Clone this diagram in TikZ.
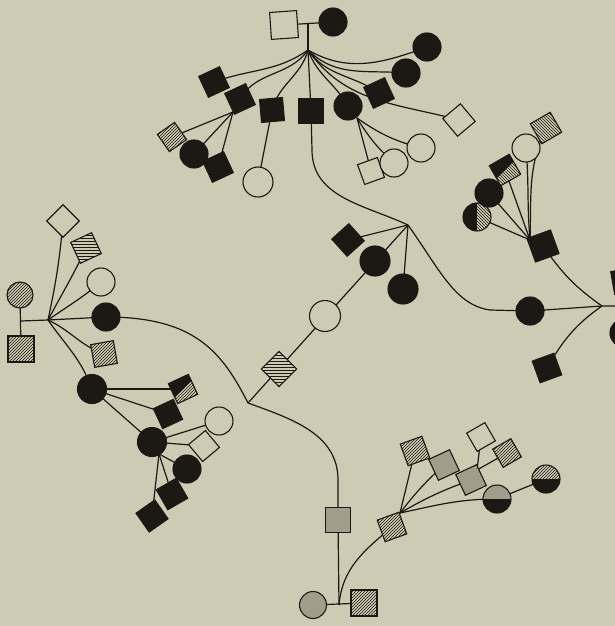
\documentclass[tikz,border=0pt]{standalone}
\usetikzlibrary{patterns,backgrounds}
\definecolor{paper}{RGB}{206,203,180}
\definecolor{ink}{RGB}{28,24,20}
\definecolor{stip}{RGB}{160,157,138}

\begin{document}
\begin{tikzpicture}[x=1pt, y=1pt,
    pers/.style={draw=ink, line width=1.1pt, inner sep=0pt, outer sep=0pt},
    male/.style={pers, rectangle, minimum size=23pt},
    fem/.style={pers, circle, minimum size=28pt},
    blk/.style={fill=ink},
    opn/.style={fill=paper},
    hat/.style={preaction={fill=paper}, pattern=north east lines, pattern color=ink},
    hatw/.style={preaction={fill=paper}, pattern=north west lines, pattern color=ink},
    hatl/.style={preaction={fill=paper}, pattern=horizontal lines, pattern color=ink},
    gry/.style={fill=stip},
    lowblk/.style={path picture={\fill[ink] (path picture bounding box.west) rectangle (path picture bounding box.south east);}},
    leftblk/.style={path picture={\fill[ink] (path picture bounding box.north west) rectangle (path picture bounding box.south);}},
    cornblk/.style={path picture={\fill[ink] (path picture bounding box.north west) -- (path picture bounding box.north east) -- (path picture bounding box.south west) -- cycle;}},
    link/.style={draw=ink, line width=1.2pt}
  ]
  \useasboundingbox (0,0) rectangle (615,-626);

  % top family
  \node[male, opn, rotate=4, minimum size=27pt] (tF) at (284,-25) {};
  \node[fem, blk] (tM) at (333,-22) {};
  \coordinate (tJ) at (308,-24);
  \coordinate (tH) at (308,-50);
  \node[male, blk, rotate=25] (t1) at (214,-82) {};
  \node[male, blk, rotate=25] (t2) at (240,-99) {};
  \node[male, blk, rotate=5] (t3) at (272,-110) {};
  \node[male, blk, minimum size=24pt] (t4) at (311,-111) {};
  \node[fem, blk] (t5) at (348,-106) {};
  \node[male, blk, rotate=25] (t6) at (379,-93) {};
  \node[fem, blk] (t7) at (406,-73) {};
  \node[fem, blk] (t8) at (427,-47) {};
  \node[male, opn, rotate=40] (t9) at (459,-120) {};
  \coordinate (t2H) at (233,-112);
  \node[male, hat, rotate=35, minimum size=21pt] (t2a) at (172,-137) {};
  \node[fem, blk] (t2b) at (194,-154) {};
  \node[male, blk, rotate=25] (t2c) at (218,-167) {};
  \node[fem, opn, minimum size=30pt] (t3a) at (258,-182) {};
  \coordinate (t5H) at (357,-118);
  \node[male, opn, rotate=20, minimum size=21pt] (t5a) at (371,-171) {};
  \node[fem, opn] (t5b) at (394,-163) {};
  \node[fem, opn] (t5c) at (421,-148) {};
  \coordinate (t4K) at (312,-150);

  % middle
  \coordinate (mH) at (408,-225);
  \node[male, blk, rotate=42] (m1) at (348,-240) {};
  \node[fem, blk, minimum size=30pt] (m2) at (375,-261) {};
  \node[fem, blk, minimum size=30pt] (m3) at (403,-289) {};
  \node[fem, opn, minimum size=31pt] (m4) at (325,-316) {};
  \node[male, hatl, rotate=45, minimum size=25pt] (m5) at (279,-369) {};
  \coordinate (lX) at (248,-403);

  % right family
  \node[male, blk, rotate=10] (rF) at (624,-281) {};
  \node[fem, blk] (rM) at (624,-333) {};
  \coordinate (rJ) at (624,-306);
  \coordinate (rH) at (602,-306);
  \node[fem, blk] (r1) at (530,-311) {};
  \node[male, blk, rotate=20, minimum size=25pt] (r2) at (543,-246) {};
  \node[male, blk, rotate=20] (r3) at (547,-368) {};
  \coordinate (r2H) at (530,-240);
  \node[fem, hatw, leftblk] (r2a) at (477,-217) {};
  \node[fem, blk] (r2b) at (489,-193) {};
  \node[male, hatw, cornblk, rotate=30] (r2c) at (505,-170) {};
  \node[fem, opn] (r2d) at (526,-148) {};
  \node[male, hatw, rotate=30] (r2e) at (546,-128) {};

  % left family
  \node[fem, hat, minimum size=26pt] (lM) at (20,-295) {};
  \node[male, hat, minimum size=26pt] (lF) at (21,-349) {};
  \coordinate (lJ) at (21,-321);
  \coordinate (lH) at (48,-320);
  \node[male, opn, rotate=45] (l1) at (63,-221) {};
  \node[male, hatl, rotate=25] (l2) at (86,-248) {};
  \node[fem, opn] (l3) at (101,-282) {};
  \node[fem, blk] (l4) at (106,-317) {};
  \node[male, hat, rotate=10] (l5) at (104,-354) {};
  \node[fem, blk, minimum size=29pt] (l6) at (92,-389) {};
  \node[male, hat, cornblk, rotate=25, minimum size=22pt] (l6a) at (183,-389) {};
  \node[male, blk, rotate=25, minimum size=22pt] (l6b) at (168,-414) {};
  \node[fem, blk, minimum size=29pt] (l6c) at (152,-442) {};
  \coordinate (l6cH) at (159,-454);
  \node[fem, opn] (l6c1) at (219,-421) {};
  \node[male, opn, rotate=40, minimum size=22pt] (l6c2) at (204,-446) {};
  \node[fem, blk] (l6c3) at (187,-469) {};
  \node[male, blk, rotate=30] (l6c4) at (172,-494) {};
  \node[male, blk, rotate=35] (l6c5) at (152,-516) {};

  % bottom family
  \coordinate (bK) at (338,-480);
  \node[male, gry, minimum size=25pt] (bS) at (338,-520) {};
  \node[fem, gry, minimum size=27pt] (bM) at (313,-605) {};
  \node[male, hat, minimum size=26pt] (bF) at (364,-603) {};
  \coordinate (bJ) at (339,-605);
  \node[male, hat, rotate=20] (b2) at (392,-527) {};
  \coordinate (b2H) at (400,-513);
  \node[male, hat, rotate=20] (b2a) at (415,-451) {};
  \node[male, gry, rotate=25] (b2b) at (444,-465) {};
  \node[male, gry, rotate=25] (b2c) at (471,-480) {};
  \node[fem, gry, lowblk] (b2d) at (497,-499) {};
  \node[fem, hat, lowblk] (b2e) at (546,-479) {};
  \coordinate (b2cH) at (477,-470);
  \node[male, opn, rotate=30, minimum size=21pt] (b2c1) at (481,-437) {};
  \node[male, hat, rotate=30, minimum size=21pt] (b2c2) at (507,-453) {};

  \begin{scope}[on background layer]
    \fill[paper] (0,0) rectangle (615,-626);
    % top
    \draw[link] (tF) -- (tM);
    \draw[link] (tJ) -- (tH);
    \draw[link] (tH) to[out=215,in=20] (t1.center);
    \draw[link] (tH) to[out=235,in=60] (t2.center);
    \draw[link] (tH) to[out=255,in=75] (t3.center);
    \draw[link] (tH) -- (t4.center);
    \draw[link] (tH) to[out=290,in=120] (t5.center);
    \draw[link] (tH) to[out=305,in=145] (t6.center);
    \draw[link] (tH) to[out=315,in=175] (t7.center);
    \draw[link] (tH) to[out=330,in=200] (t8.center);
    \draw[link] (tH) to[out=305,in=165] (t9.center);
    \draw[link] (t2H) -- (t2a.center);
    \draw[link] (t2H) -- (t2b.center);
    \draw[link] (t2H) -- (t2c.center);
    \draw[link] (t3.center) -- (t3a.center);
    \draw[link] (t5H) -- (t5a.center);
    \draw[link] (t5H) to[bend right=8] (t5b.center);
    \draw[link] (t5H) to[bend right=10] (t5c.center);
    \draw[link] (t4.center) -- (t4K) to[out=270,in=155] (mH);
    % middle
    \draw[link] (mH) -- (m1.center);
    \draw[link] (mH) -- (m3.center);
    \draw[link] (mH) -- (lX);
    \draw[link] (mH) .. controls (440,-270) and (455,-305) .. (490,-310) -- (r1.center);
    % right
    \draw[link] (rF) -- (rM);
    \draw[link] (rJ) -- (rH) -- (r1.center);
    \draw[link] (rH) to[out=145,in=-55] (r2.center);
    \draw[link] (rH) to[out=215,in=60] (r3.center);
    \draw[link] (r2H) -- (r2a.center);
    \draw[link] (r2H) -- (r2b.center);
    \draw[link] (r2H) -- (r2c.center);
    \draw[link] (r2H) to[out=95,in=275] (r2d.center);
    \draw[link] (r2H) to[out=88,in=245] (r2e.center);
    % left
    \draw[link] (lM) -- (lF);
    \draw[link] (lJ) -- (lH);
    \draw[link] (lH) to[out=78,in=265] (l1.center);
    \draw[link] (lH) to[out=62,in=245] (l2.center);
    \draw[link] (lH) to[out=35,in=220] (l3.center);
    \draw[link] (lH) -- (l4.center);
    \draw[link] (lH) to[out=-25,in=160] (l5.center);
    \draw[link] (lH) to[out=-55,in=110] (l6.center);
    \draw[link] (l4.center) .. controls (195,-317) and (222,-352) .. (lX);
    \draw[link] (l6.center) -- (l6a.center);
    \draw[link] (l6.center) -- (l6b.center);
    \draw[link] (l6.center) -- (l6c.center);
    \draw[link] (l6c.center) -- (l6c1.center);
    \draw[link] (l6c.center) -- (l6c2.center);
    \draw[link] (l6cH) -- (l6c3.center);
    \draw[link] (l6cH) -- (l6c4.center);
    \draw[link] (l6cH) -- (l6c5.center);
    % bottom
    \draw[link] (lX) to[out=-20,in=90] (bK) -- (bS.center);
    \draw[link] (bM) -- (bF);
    \draw[link] (bJ) -- (bS.center);
    \draw[link] (bJ) to[out=85,in=220] (b2.center);
    \draw[link] (b2H) -- (b2a.center);
    \draw[link] (b2H) to[bend left=5] (b2b.center);
    \draw[link] (b2H) to[bend left=5] (b2c.center);
    \draw[link] (b2H) to[out=12,in=180] (b2d.center);
    \draw[link] (b2d.center) -- (b2e.center);
    \draw[link] (b2cH) -- (b2c1.center);
    \draw[link] (b2cH) -- (b2c2.center);
  \end{scope}
\end{tikzpicture}
\end{document}
